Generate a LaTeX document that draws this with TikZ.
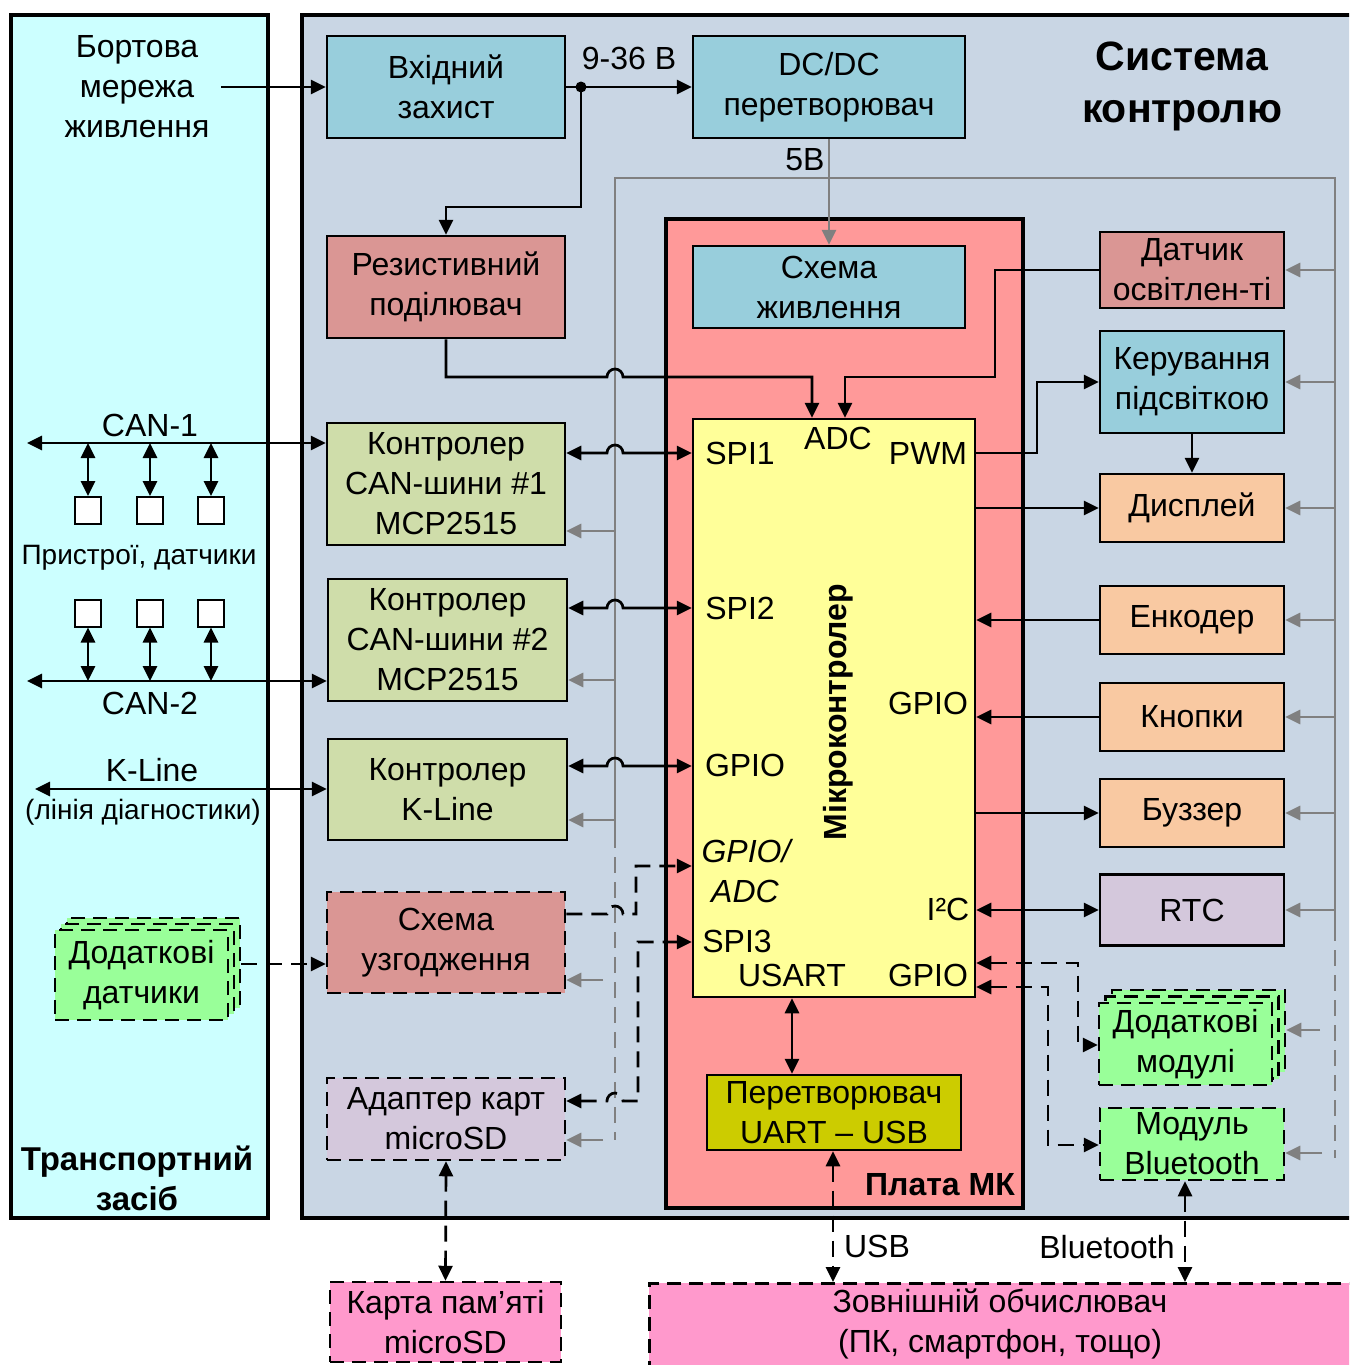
\documentclass[tikz,border=0pt]{standalone}
\usepackage{fontspec}
\setmainfont{Liberation Sans}
\usetikzlibrary{arrows.meta,calc}
\definecolor{cpanelL}{RGB}{204,255,255}
\definecolor{cpanelR}{RGB}{201,214,228}
\definecolor{cboard}{RGB}{255,153,153}
\definecolor{cteal}{RGB}{152,206,220}
\definecolor{crose}{RGB}{218,150,148}
\definecolor{cctrl}{RGB}{207,221,170}
\definecolor{cpeach}{RGB}{249,201,162}
\definecolor{clav}{RGB}{212,200,220}
\definecolor{cmcu}{RGB}{255,255,153}
\definecolor{colive}{RGB}{204,204,0}
\definecolor{cgreen}{RGB}{153,255,153}
\definecolor{cpink}{RGB}{255,153,204}
\definecolor{cgray}{RGB}{128,128,128}
\newcommand{\fsN}{\fontsize{32}{40}\selectfont}
\newcommand{\fsS}{\fontsize{28}{36}\selectfont}
\newcommand{\fsB}{\fontsize{41}{52}\selectfont\bfseries}
\begin{document}
\begin{tikzpicture}[x=1pt,y=-1pt,
  bx/.style={draw=black,line width=2.5pt,inner sep=0pt,align=center,font=\fsN},
  dbx/.style={bx,dash pattern=on 14pt off 8pt},
  lbl/.style={inner sep=0pt,align=center,font=\fsN},
  ln/.style={line width=2.7pt,draw=black},
  dln/.style={ln,dash pattern=on 16pt off 9pt},
  tipA/.style={-{Triangle[length=15pt,width=14pt]}},
  tipAA/.style={{Triangle[length=15pt,width=14pt]}-{Triangle[length=15pt,width=14pt]}},
  gln/.style={line width=2.8pt,draw=cgray},
  gdln/.style={gln,dash pattern=on 16pt off 9pt},
  panel/.style={draw=black,line width=4.5pt},
  sq/.style={draw=black,line width=2pt,fill=white,minimum width=26pt,minimum height=27pt,inner sep=0pt}
]
\useasboundingbox (0,0) rectangle (1349,1365);
\clip (0,0) rectangle (1349,1365);
\fill[white] (0,0) rectangle (1349,1365);

% panels
\draw[panel,fill=cpanelL] (11,15) rectangle (268,1218);
\draw[panel,fill=cpanelR] (302,15) rectangle (1380,1218);
\draw[panel,fill=cboard] (666,219) rectangle (1023,1208);

% titles
\node[lbl,font=\fsB] (title) at (1182,86) {Система\\контролю};
\node[lbl,font=\fontsize{33}{40}\selectfont\bfseries] (tz) at (137,1178) {Транспортний\\засіб};
\node[lbl,font=\fsN\bfseries] (pmk) at (940,1185) {Плата МК};

% boxes top
\node[bx,fill=cteal,minimum width=238pt,minimum height=102pt] (vz) at (446,87) {Вхідний\\захист};
\node[bx,fill=cteal,minimum width=272pt,minimum height=102pt] (dc) at (829,87) {DC/DC\\перетворювач};
\node[bx,fill=crose,minimum width=238pt,minimum height=102pt] (rd) at (446,287) {Резистивний\\поділювач};
\node[bx,fill=cteal,minimum width=272pt,minimum height=82pt] (sz) at (829,287) {Схема\\живлення};

% right column
\node[bx,fill=crose,minimum width=184pt,minimum height=76pt] (dos) at (1192,270) {Датчик\\освітлен-ті};
\node[bx,fill=cteal,minimum width=184pt,minimum height=102pt] (kp) at (1192,382) {Керування\\підсвіткою};
\node[bx,fill=cpeach,minimum width=184pt,minimum height=68pt] (disp) at (1192,508) {Дисплей};
\node[bx,fill=cpeach,minimum width=184pt,minimum height=68pt] (enc) at (1192,620) {Енкодер};
\node[bx,fill=cpeach,minimum width=184pt,minimum height=68pt] (btn) at (1192,717) {Кнопки};
\node[bx,fill=cpeach,minimum width=184pt,minimum height=68pt] (buz) at (1192,813) {Буззер};
\node[bx,fill=clav,minimum width=184pt,minimum height=71pt] (rtc) at (1192,910) {RTC};
\node[dbx,fill=cgreen,minimum width=173pt,minimum height=82pt] (mods3) at (1198.5,1031) {};
\node[dbx,fill=cgreen,minimum width=173pt,minimum height=82pt] (mods2) at (1192,1037.5) {};
\node[dbx,fill=cgreen,minimum width=173pt,minimum height=82pt] (mods) at (1185.5,1044) {Додаткові\\модулі};
\node[dbx,fill=cgreen,minimum width=184pt,minimum height=72pt] (bt) at (1192,1144) {Модуль\\Bluetooth};

% MCU
\node[bx,fill=cmcu,minimum width=282pt,minimum height=578pt] (mcu) at (834,708) {};
\node[lbl,font=\fsN\bfseries,rotate=90] (mcut) at (838,712) {Мікроконтролер};
\node[bx,fill=colive,minimum width=254pt,minimum height=75pt] (uu) at (834,1112.5) {Перетворювач\\UART – USB};

% left column
\node[bx,fill=cctrl,minimum width=238pt,minimum height=122pt] (can1) at (446,484) {Контролер\\CAN-шини \#1\\MCP2515};
\node[bx,fill=cctrl,minimum width=239pt,minimum height=122pt] (can2) at (447.5,640) {Контролер\\CAN-шини \#2\\MCP2515};
\node[bx,fill=cctrl,minimum width=239pt,minimum height=101pt] (kl) at (447.5,789.5) {Контролер\\K-Line};
\node[dbx,fill=crose,minimum width=238pt,minimum height=101pt] (sug) at (446,942.5) {Схема\\узгодження};
\node[dbx,fill=clav,minimum width=238pt,minimum height=82pt] (ad) at (446,1119) {Адаптер карт\\microSD};

% left panel stack
\node[dbx,fill=cgreen,minimum width=173pt,minimum height=90pt] (dd3) at (153.5,963) {};
\node[dbx,fill=cgreen,minimum width=173pt,minimum height=90pt] (dd2) at (147.5,969) {};
\node[dbx,fill=cgreen,minimum width=173pt,minimum height=90pt] (dd) at (141.5,975) {Додаткові\\датчики};

% bottom boxes
\node[dbx,fill=cpink,minimum width=231pt,minimum height=80pt] (km) at (445.5,1322) {Карта пам’яті\\microSD};
\node[dbx,fill=cpink,minimum width=760pt,minimum height=140pt,anchor=north west] (ext) at (648,1282) {};
\node[lbl] (extt) at (1000,1324) {Зовнішній обчислювач\\(ПК, смартфон, тощо)};

% left panel labels and devices
\node[lbl] (bm) at (137,87) {Бортова\\мережа\\живлення};
\coordinate (bmo) at (221,87);
\node[lbl] (lcan1) at (150,425) {CAN-1};
\node[lbl,font=\fsS] (ldev) at (139,558) {Пристрої, датчики};
\node[lbl] (lcan2) at (150,703) {CAN-2};
\node[lbl] (lkl) at (152,770) {K-Line};
\node[lbl,font=\fsS] (lkl2) at (143,812) {(лінія діагностики)};
\node[sq] (s11) at (88,510.5) {};
\node[sq] (s12) at (150,510.5) {};
\node[sq] (s13) at (211,510.5) {};
\node[sq] (s21) at (88,613) {};
\node[sq] (s22) at (150,613) {};
\node[sq] (s23) at (211,613) {};
\coordinate (b1) at (27,443);
\coordinate (b2) at (27,681);
\coordinate (b3) at (35,789);

% MCU port labels
\node[lbl] (p1) at (740,453) {SPI1};
\node[lbl] (p2) at (838,438) {ADC};
\node[lbl] (p3) at (928,453) {PWM};
\node[lbl] (p4) at (740,608) {SPI2};
\node[lbl] (p5) at (928,703) {GPIO};
\node[lbl] (p6) at (745,765) {GPIO};
\node[lbl,font=\fsN\itshape] (p7) at (746,851) {GPIO/};
\node[lbl,font=\fsN\itshape] (p8) at (745,891) {ADC};
\node[lbl] (p9) at (948,909) {I²C};
\node[lbl] (p10) at (737,941) {SPI3};
\node[lbl] (p11) at (792,975) {USART};
\node[lbl] (p12) at (928,975) {GPIO};

% other labels
\node[lbl] (v936) at (629,58) {9-36 В};
\node[lbl] (v5) at (805,160) {5В};
\node[lbl] (lusb) at (877,1246) {USB};
\node[lbl] (lbt) at (1107,1247) {Bluetooth};

% ---- gray power bus ----
\draw[gln] (615,832) -- (615,178) -- (1335,178) -- (1335,925);
\draw[gdln] (615,832) -- (615,1140);
\draw[gdln] (1335,925) -- (1335,1158);
\draw[gln,tipA] (dc.south) -- (sz.north);
\draw[gln,tipA] (1335,270) -- (dos.east);
\draw[gln,tipA] (1335,382) -- (kp.east);
\draw[gln,tipA] (1335,508) -- (disp.east);
\draw[gln,tipA] (1335,620) -- (enc.east);
\draw[gln,tipA] (1335,717) -- (btn.east);
\draw[gln,tipA] (1335,813) -- (buz.east);
\draw[gln,tipA] (1335,910) -- (rtc.east);
\draw[gln,tipA] (1320,1030) -- (mods3.east |- 0,1030);
\draw[gln,tipA] (1322,1153) -- (bt.east |- 0,1153);
\draw[gln,tipA] (615,531) -- (can1.east |- 0,531);
\draw[gln,tipA] (615,680) -- (can2.east |- 0,680);
\draw[gln,tipA] (615,820) -- (kl.east |- 0,820);
\draw[gln,tipA] (603,980) -- (sug.east |- 0,980);
\draw[gln,tipA] (603,1140) -- (ad.east |- 0,1140);

% ---- black connectors ----
\draw[ln,tipA] (bmo) -- (vz.west);
\draw[ln,tipA] (vz.east) -- (dc.west);
\coordinate (j1) at (581,87);
\fill (j1) circle (5.5pt);
\draw[ln,tipA] (j1) -- (581,207) -- (446,207) -- (rd.north);
\draw[ln,tipA] (rd.south) -- (446,377) -- (607,377) arc[start angle=180,end angle=0,radius=8pt] -- (812,377) -- (mcu.north -| 812,0);
\draw[ln,tipA] (dos.west) -- (995,270) -- (995,377) -- (845,377) -- (mcu.north -| 845,0);
\draw[ln,tipA] (mcu.east |- 0,453) -- (1037,453) -- (1037,382) -- (kp.west);
\draw[ln,tipA] (kp.south) -- (disp.north);
\draw[ln,tipA] (mcu.east |- 0,508) -- (disp.west);
\draw[ln,tipA] (enc.west) -- (mcu.east |- 0,620);
\draw[ln,tipA] (btn.west) -- (mcu.east |- 0,717);
\draw[ln,tipA] (mcu.east |- 0,813) -- (buz.west);
\draw[ln,tipAA] (mcu.east |- 0,910) -- (rtc.west);
\draw[dln,tipAA] (mcu.east |- 0,963) -- (1078,963) -- (1078,1045) -- (mods.west |- 0,1045);
\draw[dln,tipAA] (mcu.east |- 0,987) -- (1048,987) -- (1048,1145) -- (bt.west |- 0,1145);
\draw[ln,tipAA] (mcu.south -| 792,0) -- (uu.north -| 792,0);
\draw[dln,tipAA] (uu.south -| 833,0) -- (ext.north -| 833,0);
\draw[dln,tipAA] (bt.south -| 1185,0) -- (ext.north -| 1185,0);
\draw[dln,tipAA] (ad.south) -- (km.north);

% left side
\draw[ln,tipAA] (can1.east |- 0,453) -- (607,453) arc[start angle=180,end angle=0,radius=8pt] -- (mcu.west |- 0,453);
\draw[ln,tipAA] (can2.east |- 0,608) -- (607,608) arc[start angle=180,end angle=0,radius=8pt] -- (mcu.west |- 0,608);
\draw[ln,tipAA] (kl.east |- 0,766) -- (607,766) arc[start angle=180,end angle=0,radius=8pt] -- (mcu.west |- 0,766);
\draw[dln,tipA] (sug.east |- 0,914) -- (607,914) arc[start angle=180,end angle=0,radius=8pt] -- (636,914) -- (636,866) -- (mcu.west |- 0,866);
\draw[dln,tipAA] (ad.east |- 0,1101) -- (607,1101) arc[start angle=180,end angle=0,radius=8pt] -- (638,1101) -- (638,942) -- (mcu.west |- 0,942);
\draw[dln,tipA] (dd3.east |- 0,964) -- (sug.west |- 0,964);

\draw[ln,tipAA] (b1) -- (can1.west |- 0,443);
\draw[ln,tipAA] (b2) -- (can2.west |- 0,681);
\draw[ln,tipAA] (b3) -- (kl.west |- 0,789);
\foreach \s in {s11,s12,s13}{\draw[ln,tipAA] (\s.north |- 0,443) -- (\s.north);}
\foreach \s in {s21,s22,s23}{\draw[ln,tipAA] (\s.south) -- (\s.south |- 0,681);}
\end{tikzpicture}
\end{document}
